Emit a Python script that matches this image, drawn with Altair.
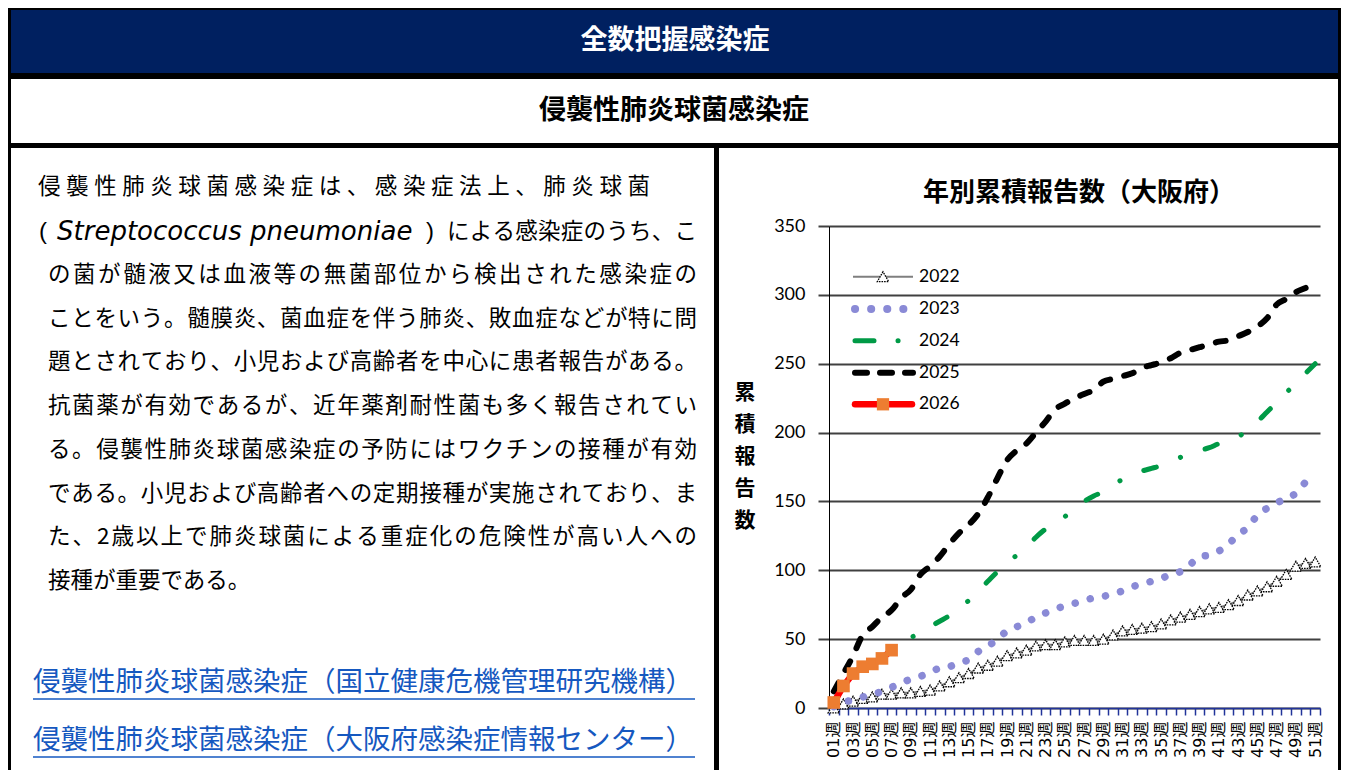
import altair as alt
import pandas as pd

# ---------------- data ----------------
weeks = [f"{i:02d}" for i in range(1, 52)]

y2022 = [0, 3, 5, 7, 8, 10, 10, 11, 11, 12, 13, 16, 19, 22, 25, 29, 31, 34, 38, 40,
         42, 45, 46, 46, 48, 49, 49, 49, 50, 53, 56, 57, 58, 59, 61, 64, 66, 68, 70, 72,
         73, 75, 78, 82, 85, 88, 92, 97, 103, 105, 106]
y2023 = [1, 4, 6, 8, 10, 12, 15, 18, 21, 23, 26, 29, 30, 33, 35, 41, 45, 50, 56, 59,
         62, 66, 69, 72, 74, 76, 78, 80, 81, 83, 85, 88, 90, 92, 94, 97, 99, 104, 110, 111,
         114, 119, 126, 131, 140, 145, 149, 152, 156, 164, 170]
y2024 = [5, 15, 24, 30, 33, 37, 42, 47, 51, 55, 59, 63, 67, 72, 78, 85, 92, 99, 105, 111,
         117, 124, 130, 134, 139, 145, 150, 154, 157, 162, 166, 169, 172, 174, 176, 179, 182, 185, 187, 189,
         192, 194, 197, 202, 208, 215, 222, 229, 236, 243, 250]
y2025 = [12, 25, 38, 53, 59, 66, 71, 80, 86, 97, 103, 110, 119, 127, 133, 141, 153, 167, 180, 187,
         192, 200, 208, 217, 221, 225, 228, 231, 237, 239, 241, 243, 247, 249, 251, 254, 258, 260, 262, 264,
         266, 267, 270, 273, 277, 283, 293, 297, 302, 305, 308]
y2026 = [4, 16, 25, 30, 32, 36, 42]

series = {"2022": y2022, "2023": y2023, "2024": y2024, "2025": y2025, "2026": y2026}
y_ticks = [0, 50, 100, 150, 200, 250, 300, 350]

header_main = "全数把握感染症"
header_sub = "侵襲性肺炎球菌感染症"
chart_title = "年別累積報告数（大阪府）"
y_title_chars = ["累", "積", "報", "告", "数"]
body_line1 = "侵襲性肺炎球菌感染症は、感染症法上、肺炎球菌"
body_line2 = ["(", "Streptococcus pneumoniae", ")", "による感染症のうち、こ"]
body_lines = [
    "の菌が髄液又は血液等の無菌部位から検出された感染症の",
    "ことをいう。髄膜炎、菌血症を伴う肺炎、敗血症などが特に問",
    "題とされており、小児および高齢者を中心に患者報告がある。",
    "抗菌薬が有効であるが、近年薬剤耐性菌も多く報告されてい",
    "る。侵襲性肺炎球菌感染症の予防にはワクチンの接種が有効",
    "である。小児および高齢者への定期接種が実施されており、ま",
    "た、2歳以上で肺炎球菌による重症化の危険性が高い人への",
]
body_last = "接種が重要である。"
links = ["侵襲性肺炎球菌感染症（国立健康危機管理研究機構）",
         "侵襲性肺炎球菌感染症（大阪府感染症情報センター）"]

rows = []
for yr, vals in series.items():
    for w, v in zip(weeks, vals):
        rows.append({"week": w, "year": yr, "value": v})
df = pd.DataFrame(rows)

# ---------------- layout helpers ----------------
JP = "Noto Sans CJK JP"
NUM = "Lato"
NAVY = "#002060"
AXBLUE = "#22349A"
LINK = "#1558C0"
OX, OY = 829, 226  # plot-area origin in page pixels
W, H = 491, 482


def px(x):
    return x - OX


def py(y):
    return y - OY


one = pd.DataFrame({"k": [0]})


def rect(x1, y1, x2, y2, color):
    return alt.Chart(one).mark_rect(color=color, opacity=1).encode(
        x=alt.value(px(x1)), x2=alt.value(px(x2)),
        y=alt.value(py(y1)), y2=alt.value(py(y2)))


def text(s, x, y, size, color="black", weight="normal", align="left",
         font=JP, style="normal"):
    return alt.Chart(one).mark_text(
        text=s, font=font, fontSize=size, fontWeight=weight, fontStyle=style,
        color=color, align=align, baseline="middle").encode(
        x=alt.value(px(x)), y=alt.value(py(y)))


def rule(x1, x2, y, color, width, dash=None, cap="butt"):
    kw = dict(color=color, strokeWidth=width, strokeCap=cap)
    if dash:
        kw["strokeDash"] = dash
    return alt.Chart(one).mark_rule(**kw).encode(
        x=alt.value(px(x1)), x2=alt.value(px(x2)), y=alt.value(py(y)))


def adv(c, fs):
    return 0.56 * fs if c.isascii() else fs


def jline(s, x0, x1, y, fs, color="black"):
    """Justified (distributed) Japanese line, one glyph per text mark."""
    advs = [adv(c, fs) for c in s]
    n = len(s)
    gap = max(0.0, (x1 - x0 - sum(advs)) / (n - 1)) if n > 1 else 0
    out = []
    x = x0
    for c, a in zip(s, advs):
        out.append(text(c, x, y, fs, color=color))
        x += a + gap
    return out


layers = []
# frame / header
layers.append(rect(8, 8, 1341, 79, "black"))
layers.append(rect(11, 10, 1338, 73, NAVY))
layers.append(rect(8, 143, 1341, 148, "black"))
layers.append(rect(8, 8, 11, 770, "black"))
layers.append(rect(1338, 8, 1341, 770, "black"))
layers.append(rect(714, 148, 719, 770, "black"))
layers.append(text(header_main, 675, 41, 27, color="white", weight="bold", align="center"))
layers.append(text(header_sub, 674, 111, 27, weight="bold", align="center"))

# body text
BODY = 22.5
layers += jline(body_line1, 38, 650, 187, BODY)
layers.append(text(body_line2[0], 39, 232, 24, font="Liberation Sans"))
layers.append(text(body_line2[1], 57, 232, 26, font="DejaVu Sans", style="italic"))
layers.append(text(body_line2[2], 426, 232, 24, font="Liberation Sans"))
layers += jline(body_line2[3], 447, 697, 232, BODY)
for i, s in enumerate(body_lines):
    layers += jline(s, 48, 697, 275 + i * 43.7, BODY)
layers.append(text(body_last, 48, 275 + len(body_lines) * 43.7, BODY))
for i, s in enumerate(links):
    ly = 683 + i * 58
    layers.append(text(s, 33, ly, 27.5, color=LINK))
    layers.append(rule(33, 695, ly + 16, LINK, 1.5))

# chart title and y title
layers.append(text(chart_title, 1079, 193, 26, weight="bold", align="center"))
for i, ch in enumerate(y_title_chars):
    layers.append(text(ch, 745, 393 + i * 32, 21, weight="bold", align="center"))

# ---------------- data layers ----------------
xscale = alt.Scale(type="band", domain=weeks, paddingInner=0, paddingOuter=0)
yscale = alt.Scale(domain=[0, 350], nice=False)
xaxis = alt.Axis(title=None, labelAngle=-90, labelAlign="right", labelBaseline="middle",
                 labelExpr="toNumber(datum.value) % 2 == 1 ? datum.value + '週' : ''",
                 labelFont="DejaVu Sans, Noto Sans CJK JP", labelFontSize=16, labelColor="black",
                 labelOverlap=False, labelPadding=6, tickBand="extent", tickSize=7,
                 tickColor=AXBLUE, tickWidth=1.5, domainColor=AXBLUE, domainWidth=1.5, grid=False)
yaxis = alt.Axis(title=None, values=y_ticks, grid=True, gridColor="#404040", gridWidth=2,
                 tickSize=11, tickColor="#404040", tickWidth=2, domainColor="black",
                 domainWidth=1, labelFont=NUM, labelFontSize=18, labelColor="black",
                 labelPadding=13)
X = alt.X("week:O", scale=xscale, axis=xaxis, bandPosition=0.5)
Y = alt.Y("value:Q", scale=yscale, axis=yaxis)


def series_chart(yr):
    return alt.Chart(df).transform_filter(alt.datum.year == yr)


TRI = dict(shape="triangle-up", size=130, fill="white", stroke="black", strokeWidth=1.3,
           strokeDash=[1.6, 1], opacity=1, fillOpacity=1)
layers.append(series_chart("2022").mark_line(color="#7F7F7F", strokeWidth=2).encode(x=X, y=Y))
layers.append(series_chart("2022").mark_point(**TRI).encode(x=X, y=Y))
layers.append(series_chart("2023").mark_line(color="#8A8AD6", strokeWidth=7.5, strokeDash=[0.1, 15.5],
                                             strokeCap="round", interpolate="monotone").encode(x=X, y=Y))
layers.append(series_chart("2024").mark_line(color="#009A46", strokeWidth=5, strokeDash=[13, 26, 0.1, 26],
                                             strokeCap="round", interpolate="monotone").encode(x=X, y=Y))
layers.append(series_chart("2025").mark_line(color="black", strokeWidth=6, strokeDash=[10, 14.5],
                                             strokeCap="round", interpolate="monotone").encode(x=X, y=Y))
layers.append(series_chart("2026").mark_line(color="#FF0000", strokeWidth=6.5).encode(x=X, y=Y))
layers.append(series_chart("2026").mark_square(color="#ED7D31", size=160, opacity=1).encode(x=X, y=Y))

# ---------------- legend ----------------
leg_y = [276.7, 309, 340.7, 372.7, 404.3]
years = list(series.keys())
layers.append(rule(853, 913, leg_y[0], "#7F7F7F", 2))
layers.append(alt.Chart(one).mark_point(**TRI)
              .encode(x=alt.value(px(883)), y=alt.value(py(leg_y[0]))))
layers.append(rule(855, 905, leg_y[1], "#8A8AD6", 8, dash=[0.1, 16], cap="round"))
layers.append(rule(855, 900, leg_y[2], "#009A46", 5, dash=[19, 24, 0.1, 40], cap="round"))
layers.append(rule(855, 913, leg_y[3], "black", 6, dash=[12, 13], cap="round"))
layers.append(rule(855, 912, leg_y[4], "#FF0000", 6.5, cap="round"))
layers.append(alt.Chart(one).mark_square(color="#ED7D31", size=150, opacity=1)
              .encode(x=alt.value(px(883)), y=alt.value(py(leg_y[4]))))
for yr, ly in zip(years, leg_y):
    layers.append(text(yr, 919, ly, 17.5, font=NUM))

chart = alt.layer(*layers).properties(
    width=W, height=H,
    padding={"left": OX - 8, "top": OY - 8, "right": 1341 - (OX + W), "bottom": 770 - (OY + H)},
    autosize=alt.AutoSizeParams(type="none"),
).configure_view(strokeWidth=0)

chart.save("out.html", embed_options={"renderer": "svg", "actions": False})
